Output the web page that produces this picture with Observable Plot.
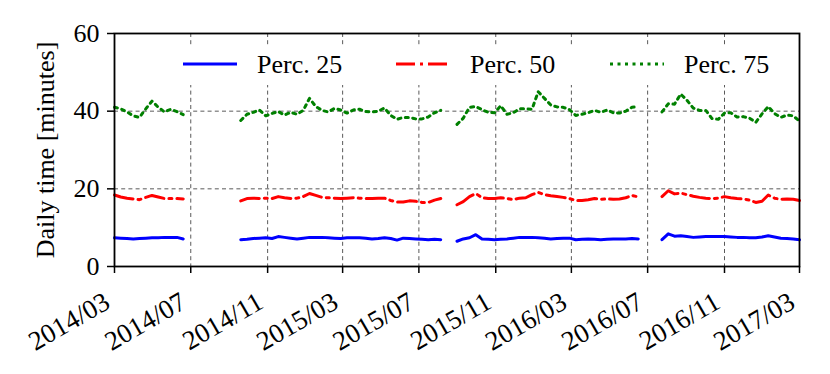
<!DOCTYPE html>
<html>
<head>
<meta charset="utf-8">
<script src="https://cdn.jsdelivr.net/npm/d3@7"></script>
<script src="https://cdn.jsdelivr.net/npm/@observablehq/plot@0.6"></script>
<style>
  html, body { margin: 0; padding: 0; background: white; }
  #wrap { position: relative; width: 830px; height: 374px; font-family: "Liberation Serif", serif; }
  #wrap svg.legend { position: absolute; left: 0; top: 0; pointer-events: none; }
</style>
</head>
<body>
<div id="wrap"></div>
<script>
// ---- data ----
const segmentStarts = ["2014-03-01", "2014-09-19", "2015-08-31", "2016-07-24"];
const stepDays = 10;
const tickDates = ["2014-03-01","2014-07-01","2014-11-01","2015-03-01","2015-07-01","2015-11-01","2016-03-01","2016-07-01","2016-11-01","2017-03-01"];
const yTicks = [0, 20, 40, 60];
const seriesNames = ["Perc. 25", "Perc. 50", "Perc. 75"];

const p25_s1 = [7.4,7.3,7.2,7.1,7.2,7.3,7.4,7.4,7.5,7.5,7.5,7.1];
const p25_s2 = [6.9,7.0,7.2,7.3,7.4,7.2,7.7,7.5,7.3,7.1,7.3,7.5,7.5,7.5,7.4,7.3,7.2,7.4,7.4,7.4,7.3,7.1,7.2,7.4,7.2,6.8,7.3,7.2,7.1,7.0,6.9,7.0,6.9];
const p25_s3 = [6.5,7.1,7.4,8.2,7.1,7.0,6.9,7.0,7.1,7.3,7.5,7.5,7.5,7.4,7.3,7.1,7.2,7.3,7.3,6.9,7.0,7.1,7.0,6.9,7.0,7.1,7.1,7.1,7.2,7.1];
const p25_s4 = [6.9,8.4,7.8,7.9,7.7,7.5,7.6,7.7,7.7,7.7,7.7,7.6,7.5,7.5,7.4,7.4,7.6,7.9,7.6,7.3,7.2,7.1,6.9];

const p50_s1 = [18.4,17.9,17.6,17.4,17.2,17.8,18.3,17.9,17.5,17.5,17.5,17.4];
const p50_s2 = [16.9,17.5,17.6,17.5,17.6,17.5,18.0,17.7,17.5,17.6,18.0,18.8,18.3,17.8,17.7,17.6,17.5,17.6,17.7,17.6,17.5,17.5,17.6,17.6,17.0,16.6,16.6,16.9,16.8,16.5,16.5,17.1,17.5];
const p50_s3 = [15.9,16.7,18.0,18.8,17.7,17.5,17.5,17.7,17.5,17.2,17.6,17.7,18.5,19.1,18.5,18.2,18.0,17.8,17.5,17.0,17.0,17.2,17.5,17.3,17.4,17.3,17.4,17.7,18.3,17.9];
const p50_s4 = [18.0,19.5,18.7,18.9,18.5,18.1,17.8,17.6,17.5,17.6,18.0,17.7,17.5,17.4,17.1,16.5,16.8,18.4,17.6,17.3,17.4,17.3,17.0];

const p75_s1 = [41.0,40.6,39.8,38.8,38.4,40.6,42.6,41.0,39.8,40.5,39.9,39.1];
const p75_s2 = [37.6,39.2,39.7,40.3,38.8,39.4,39.9,39.0,39.7,39.2,40.2,43.3,41.2,40.2,39.8,40.7,40.3,39.5,40.3,40.5,39.9,39.8,40.0,40.8,38.9,37.9,38.4,38.4,38.0,38.0,38.5,39.6,40.2];
const p75_s3 = [36.6,38.2,41.0,41.2,40.4,39.7,39.6,41.4,39.2,39.6,40.6,40.6,40.5,45.0,43.3,41.6,41.1,41.0,40.4,38.9,39.2,39.6,40.2,39.7,40.3,39.6,39.5,40.0,41.0,41.2];
const p75_s4 = [39.8,41.9,41.8,44.4,42.8,40.8,40.2,40.2,38.1,37.9,39.5,39.6,38.5,38.6,38.2,37.1,39.3,41.2,39.4,38.4,39.0,38.8,37.4];

// ---- build rows ----
function rows(segs) {
  const out = [];
  segs.forEach((vals, s) => {
    const start = new Date(segmentStarts[s] + "T00:00:00Z");
    vals.forEach((v, i) => out.push({date: d3.utcDay.offset(start, i * stepDays), value: v, seg: s}));
  });
  return out;
}
const d25 = rows([p25_s1, p25_s2, p25_s3, p25_s4]);
const d50 = rows([p50_s1, p50_s2, p50_s3, p50_s4]);
const d75 = rows([p75_s1, p75_s2, p75_s3, p75_s4]);
const ticks = tickDates.map(s => new Date(s + "T00:00:00Z"));

const chart = Plot.plot({
  width: 830, height: 374,
  marginLeft: 114, marginRight: 31, marginTop: 33, marginBottom: 108,
  style: {fontFamily: "'Liberation Serif', serif", fontSize: "26px", color: "black", background: "white", overflow: "visible"},
  x: {type: "utc", domain: [ticks[0], ticks[ticks.length - 1]]},
  y: {domain: [0, 60]},
  marks: [
    Plot.gridX(ticks, {stroke: "#333", strokeOpacity: 0.9, strokeWidth: 0.9, strokeDasharray: "4,3.2"}),
    Plot.gridY([20, 40], {stroke: "#333", strokeOpacity: 0.9, strokeWidth: 0.9, strokeDasharray: "4,3.2"}),
    Plot.line(d25, {x: "date", y: "value", z: "seg", stroke: "#0000ff", strokeWidth: 3, strokeLinejoin: "round"}),
    Plot.line(d50, {x: "date", y: "value", z: "seg", stroke: "#ff0000", strokeWidth: 3, strokeLinejoin: "round", strokeDasharray: "19,5,3,5"}),
    Plot.line(d75, {x: "date", y: "value", z: "seg", stroke: "#008000", strokeWidth: 3, strokeLinejoin: "round", strokeDasharray: "3,4.5"}),
    Plot.frame({stroke: "black", strokeWidth: 1.8}),
    // tick marks
    Plot.axisX({ticks: ticks, tickSize: 7, tickFormat: () => "", strokeWidth: 1.5, label: null}),
    // rotated tick labels
    Plot.axisX({ticks: ticks, tickSize: 0, tickFormat: d3.utcFormat("%Y/%m"), tickRotate: -30, tickPadding: 33, fontSize: 27, dx: -7, label: null}),
    Plot.axisY({ticks: yTicks, tickSize: 7, tickPadding: 8, strokeWidth: 1.5, label: "Daily time [minutes]", labelAnchor: "center", labelArrow: "none", labelOffset: 79})
  ]
});
const wrap = document.getElementById("wrap");
wrap.appendChild(chart);

// ---- legend (inside plot area, top) ----
const colors = ["#0000ff", "#ff0000", "#008000"];
const dashes = [null, "19,5,3,5", "3,4.5"];
const lineX = [183, 396, 610];
const ns = "http://www.w3.org/2000/svg";
const lg = document.createElementNS(ns, "svg");
lg.setAttribute("class", "legend");
lg.setAttribute("width", 830); lg.setAttribute("height", 374);
const bg = document.createElementNS(ns, "rect");
bg.setAttribute("x", 168); bg.setAttribute("y", 45); bg.setAttribute("width", 622); bg.setAttribute("height", 40);
bg.setAttribute("fill", "white");
lg.appendChild(bg);
seriesNames.forEach((name, i) => {
  const l = document.createElementNS(ns, "line");
  l.setAttribute("x1", lineX[i]); l.setAttribute("x2", lineX[i] + 54);
  l.setAttribute("y1", 64); l.setAttribute("y2", 64);
  l.setAttribute("stroke", colors[i]); l.setAttribute("stroke-width", 3);
  if (dashes[i]) l.setAttribute("stroke-dasharray", dashes[i]);
  lg.appendChild(l);
  const t = document.createElementNS(ns, "text");
  t.setAttribute("x", lineX[i] + 74); t.setAttribute("y", 64);
  t.setAttribute("dy", "0.35em");
  t.setAttribute("font-family", "'Liberation Serif', serif");
  t.setAttribute("font-size", "26px");
  t.textContent = name;
  lg.appendChild(t);
});
wrap.appendChild(lg);
</script>
</body>
</html>
